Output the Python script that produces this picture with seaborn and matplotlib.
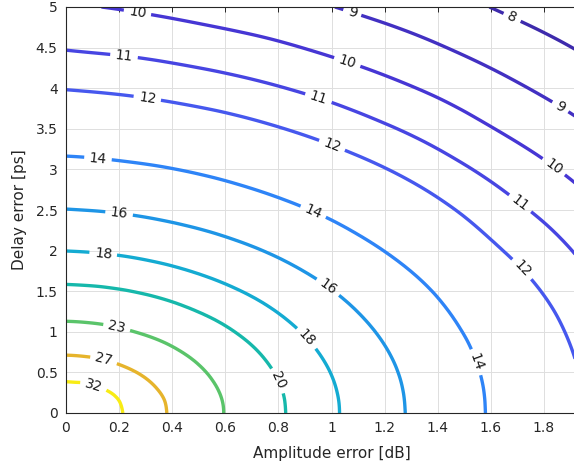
import matplotlib
matplotlib.use("Agg")
import numpy as np
import matplotlib.pyplot as plt
from matplotlib.tri import Triangulation, UniformTriRefiner, CubicTriInterpolator
import seaborn as sns

# ---------------- data ----------------
amplitude_error_db = [0.0, 0.1, 0.2, 0.3, 0.4, 0.6, 0.8, 1.0, 1.2, 1.4, 1.6, 1.8, 2.0]
delay_error_ps = [0.0, 0.125, 0.25, 0.5, 0.75, 1.0, 1.5, 2.0, 2.5, 3.0, 3.5, 4.0, 4.5, 5.0]

# image rejection ratio [dB]; one row per delay value, one column per amplitude value
irr_db = [
    [45.00, 38.73, 32.66, 29.08, 26.53, 22.91, 20.31, 18.27, 16.59, 15.14, 13.88, 12.76, 11.74],
    [42.06, 37.06, 32.17, 28.86, 26.41, 22.86, 20.28, 18.25, 16.57, 15.13, 13.87, 12.75, 11.73],
    [36.04, 34.14, 30.99, 28.26, 26.05, 22.69, 20.19, 18.19, 16.53, 15.10, 13.85, 12.73, 11.72],
    [30.02, 29.43, 28.07, 26.45, 24.87, 22.09, 19.83, 17.96, 16.37, 14.98, 13.76, 12.66, 11.66],
    [26.50, 26.20, 25.48, 24.50, 23.41, 21.25, 19.30, 17.60, 16.11, 14.79, 13.61, 12.54, 11.56],
    [24.00, 23.81, 23.37, 22.72, 21.96, 20.29, 18.65, 17.14, 15.77, 14.53, 13.41, 12.38, 11.43],
    [20.48, 20.37, 20.14, 19.80, 19.37, 18.34, 17.20, 16.05, 14.93, 13.89, 12.87, 11.95, 11.07],
    [17.98, 17.90, 17.75, 17.53, 17.25, 16.56, 15.75, 14.87, 13.98, 13.10, 12.19, 11.41, 10.62],
    [16.04, 15.97, 15.86, 15.70, 15.50, 15.00, 14.39, 13.72, 13.00, 12.26, 11.50, 10.81, 10.10],
    [14.46, 14.40, 14.30, 14.18, 14.03, 13.64, 13.16, 12.62, 12.04, 11.42, 10.78, 10.16, 9.54],
    [13.12, 13.06, 12.98, 12.88, 12.75, 12.44, 12.05, 11.61, 11.12, 10.60, 10.04, 9.51, 8.96],
    [11.96, 11.90, 11.83, 11.74, 11.63, 11.37, 11.05, 10.68, 10.26, 9.82, 9.34, 8.86, 8.37],
    [10.94, 10.88, 10.82, 10.74, 10.64, 10.41, 10.14, 9.81, 9.46, 9.07, 8.65, 8.23, 7.79],
    [10.05, 10.02, 9.95, 9.86, 9.76, 9.54, 9.30, 9.02, 8.70, 8.36, 7.99, 7.61, 7.22],
]

contour_levels = [8, 9, 10, 11, 12, 14, 16, 18, 20, 23, 27, 32]

x_ticks = [0, 0.2, 0.4, 0.6, 0.8, 1.0, 1.2, 1.4, 1.6, 1.8]
x_tick_labels = ["0", "0.2", "0.4", "0.6", "0.8", "1", "1.2", "1.4", "1.6", "1.8"]
y_ticks = [0, 0.5, 1, 1.5, 2, 2.5, 3, 3.5, 4, 4.5, 5]
y_tick_labels = ["0", "0.5", "1", "1.5", "2", "2.5", "3", "3.5", "4", "4.5", "5"]

x_label = "Amplitude error [dB]"
y_label = "Delay error [ps]"

# ---------------- style ----------------
level_colors = ["#3d2aac", "#4230c2", "#4636d4", "#4745e2", "#4658ee", "#2e84f7",
                "#1e95e6", "#14abd2", "#16b8ab", "#5ac46a", "#e6b42c", "#f8ec15"]

label_positions = [
    (0.10, 0.30), (0.14, 0.63), (0.19, 1.04), (0.80, 0.40),
    (0.14, 1.96), (0.90, 0.90),
    (0.20, 2.46), (0.98, 1.52),
    (0.12, 3.12), (0.93, 2.47), (1.54, 0.62),
    (0.31, 3.96), (1.00, 3.28), (1.72, 1.78),
    (0.22, 4.44), (0.95, 3.87), (1.71, 2.58),
    (0.27, 4.95), (1.06, 4.33), (1.83, 3.00),
    (1.08, 4.95), (1.86, 3.76),
    (1.68, 4.87),
]

sns.set_theme(style="white")
plt.rcParams["font.family"] = ["DejaVu Sans"]

fig = plt.figure(figsize=(5.74, 4.70), dpi=100)
ax = fig.add_axes([66 / 574, 57 / 470, 531 / 574, 406 / 470])

ax.set_xlim(0, 2.0)
ax.set_ylim(0, 5)
ax.grid(True, color="#dedede", linewidth=0.7)
ax.set_axisbelow(True)

# smooth contouring of the gridded values with matplotlib's own tri refiner
grid_a, grid_t = np.meshgrid(amplitude_error_db, delay_error_ps)
z = np.asarray(irr_db, dtype=float).ravel()
tri = Triangulation(grid_a.ravel(), grid_t.ravel())
interp = CubicTriInterpolator(tri, z, kind="min_E")
tri_fine, z_fine = UniformTriRefiner(tri).refine_field(z, triinterpolator=interp, subdiv=3)

cs = ax.tricontour(tri_fine, z_fine, levels=contour_levels,
                   colors=level_colors, linewidths=2.4)
ax.clabel(cs, fmt="%d", fontsize=10, inline=True, inline_spacing=5,
          manual=label_positions, colors="#1a1a1a")

ax.set_xticks(x_ticks)
ax.set_xticklabels(x_tick_labels)
ax.set_yticks(y_ticks)
ax.set_yticklabels(y_tick_labels)
ax.tick_params(direction="in", top=True, right=True, length=3.5, width=0.7,
               colors="#262626", labelsize=10, pad=6)
for sp in ax.spines.values():
    sp.set_color("#262626")
    sp.set_linewidth(0.8)

ax.set_xlabel(x_label, fontsize=11, color="#262626", labelpad=8)
ax.set_ylabel(y_label, fontsize=11, color="#262626", labelpad=6)

fig.savefig("out.png", dpi=100)
